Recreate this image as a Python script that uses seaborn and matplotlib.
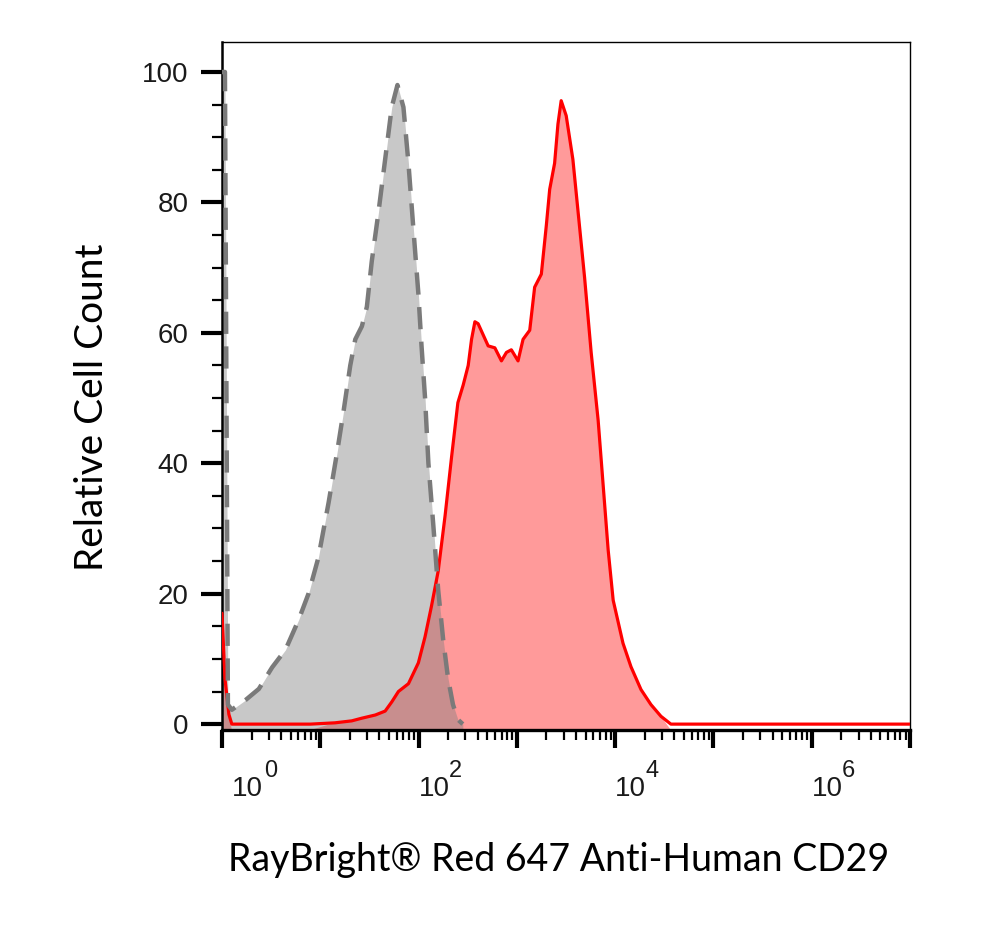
import numpy as np
import pandas as pd
import seaborn as sns
import matplotlib.pyplot as plt
from matplotlib.ticker import FixedLocator, LogLocator, MultipleLocator, NullFormatter
from matplotlib.transforms import ScaledTranslation

# isotype control (grey, dashed) - x in decades (log10), y relative count
grey_log = [0.0, 0.03, 0.06, 0.1, 0.24, 0.375, 0.51, 0.646, 0.78, 0.88, 0.98, 1.085,
            1.17, 1.237, 1.305, 1.356, 1.423, 1.474, 1.524, 1.592, 1.66, 1.727, 1.785,
            1.846, 1.897, 1.947, 1.998, 2.03, 2.066, 2.1, 2.15, 2.2, 2.25, 2.3, 2.35,
            2.4, 2.45]
grey_count = [100, 100, 3.0, 2.2, 3.7, 5.4, 8.7, 11.4, 16, 20, 25.5, 34,
              41.6, 48, 55, 59, 61, 64, 71, 78.5, 86.6, 94.6, 98,
              94.6, 86, 76, 66, 58, 50, 40, 30.5, 20.5, 13, 7, 3,
              0.7, 0]

# CD29 stained sample (red)
red_log = [0.0, 0.03, 0.07, 0.1, 0.9, 1.15, 1.32, 1.42, 1.56, 1.66, 1.727, 1.795,
           1.897, 1.998, 2.066, 2.13, 2.2, 2.27, 2.336, 2.40, 2.454, 2.505, 2.539,
           2.573, 2.606, 2.657, 2.708, 2.776, 2.843, 2.894, 2.944, 3.012, 3.063,
           3.131, 3.181, 3.249, 3.3, 3.334, 3.384, 3.418, 3.451, 3.502, 3.57, 3.62,
           3.689, 3.756, 3.827, 3.929, 3.98, 4.08, 4.161, 4.263, 4.364, 4.466,
           4.567, 7.0]
red_count = [17, 7, 1.5, 0, 0, 0.2, 0.5, 0.9, 1.4, 2, 3.4, 5,
             6.2, 9.4, 13.4, 18, 23.5, 32, 41, 49.3, 52, 55, 59,
             61.7, 61.4, 59.7, 58, 57.7, 55.7, 57, 57.4, 55.7, 59,
             60.4, 67, 69, 76.5, 82, 86, 92, 95.6, 93.3, 86.6, 79,
             68.5, 57, 46.6, 26.7, 19, 12.4, 8.8, 5.3, 3.0, 1.2,
             0, 0]

y_ticks = [0, 20, 40, 60, 80, 100]
x_decades = list(range(0, 8))
x_label_decades = [0, 2, 4, 6]

grey_df = pd.DataFrame({"x": np.power(10.0, grey_log), "count": grey_count})
red_df = pd.DataFrame({"x": np.power(10.0, red_log), "count": red_count})

sns.set_style("ticks")
plt.rcParams["font.family"] = ["Liberation Sans", "DejaVu Sans"]

fig = plt.figure(figsize=(10, 9.52), dpi=100)
ax = fig.add_axes([0.222, 0.2332, 0.688, 0.7227])
ybot, ytop = -0.9, 104.6

# fills
ax.fill_between(red_df["x"], ybot, red_df["count"], where=red_df["count"] > 0,
                interpolate=True, color="#ff9a9a", lw=0, zorder=1)
ax.fill_between(grey_df["x"], ybot, grey_df["count"], color="#808080", alpha=0.43,
                lw=0, zorder=2)

# outlines
sns.lineplot(data=red_df, x="x", y="count", ax=ax, color="#ff0000", lw=2.3,
             sort=False, estimator=None, zorder=3)
sns.lineplot(data=grey_df, x="x", y="count", ax=ax, color="#7a7a7a", lw=3.2,
             sort=False, estimator=None, zorder=4)
ax.lines[-1].set_dashes([5.0, 2.8])

ax.set_xscale("log")
ax.set_xlim(1, 1e7)
ax.set_ylim(ybot, ytop)

# y axis ticks
ax.yaxis.set_major_locator(FixedLocator(y_ticks))
ax.yaxis.set_minor_locator(MultipleLocator(5))
ax.set_yticklabels([str(v) for v in y_ticks])

# x axis ticks: every decade, "10" labels on even decades, exponent added separately
ax.xaxis.set_major_locator(FixedLocator([10.0 ** d for d in x_decades]))
ax.set_xticklabels(["10" if d in x_label_decades else "" for d in x_decades])
ax.xaxis.set_minor_locator(LogLocator(base=10, subs=np.arange(2, 10), numticks=50))
ax.xaxis.set_minor_formatter(NullFormatter())

ax.tick_params(axis="y", which="major", direction="out", length=15, width=3.0,
               labelsize=20, pad=9, color="black", labelcolor="#1a1a1a")
ax.tick_params(axis="y", which="minor", direction="out", length=7, width=1.6, color="black")
ax.tick_params(axis="x", which="major", direction="out", length=13, width=3.0,
               labelsize=20, pad=20, color="black", labelcolor="#1a1a1a")
ax.tick_params(axis="x", which="minor", direction="out", length=7, width=1.6, color="black")

for d, lbl in zip(x_decades, ax.get_xticklabels()):
    lbl.set_horizontalalignment("left")
    shift = 10 if d == 0 else 0
    lbl.set_transform(lbl.get_transform() + ScaledTranslation(shift / 100, 0, fig.dpi_scale_trans))

for d in x_label_decades:
    dx = 42 if d == 0 else 30
    ax.annotate(str(d), xy=(10.0 ** d, 0), xycoords=("data", "axes fraction"),
                xytext=(dx * 0.72, -47 * 0.72), textcoords="offset points",
                ha="left", va="baseline", fontsize=17, color="#1a1a1a",
                annotation_clip=False)

for side in ["top", "right"]:
    ax.spines[side].set_linewidth(1.0)
ax.spines["left"].set_linewidth(1.8)
ax.spines["bottom"].set_linewidth(2.4)
for side in ax.spines:
    ax.spines[side].set_color("black")

ax.set_xlabel("RayBright® Red 647 Anti-Human CD29", fontsize=27, family=["Lato", "DejaVu Sans"],
              color="black", va="center")
ax.set_ylabel("Relative Cell Count", fontsize=28, family=["Lato", "DejaVu Sans"],
              color="black", va="center")
ax.xaxis.set_label_coords(0.49, -0.189)
ax.yaxis.set_label_coords(-0.189, 0.469)

fig.savefig("out.png", dpi=100, facecolor="white")
